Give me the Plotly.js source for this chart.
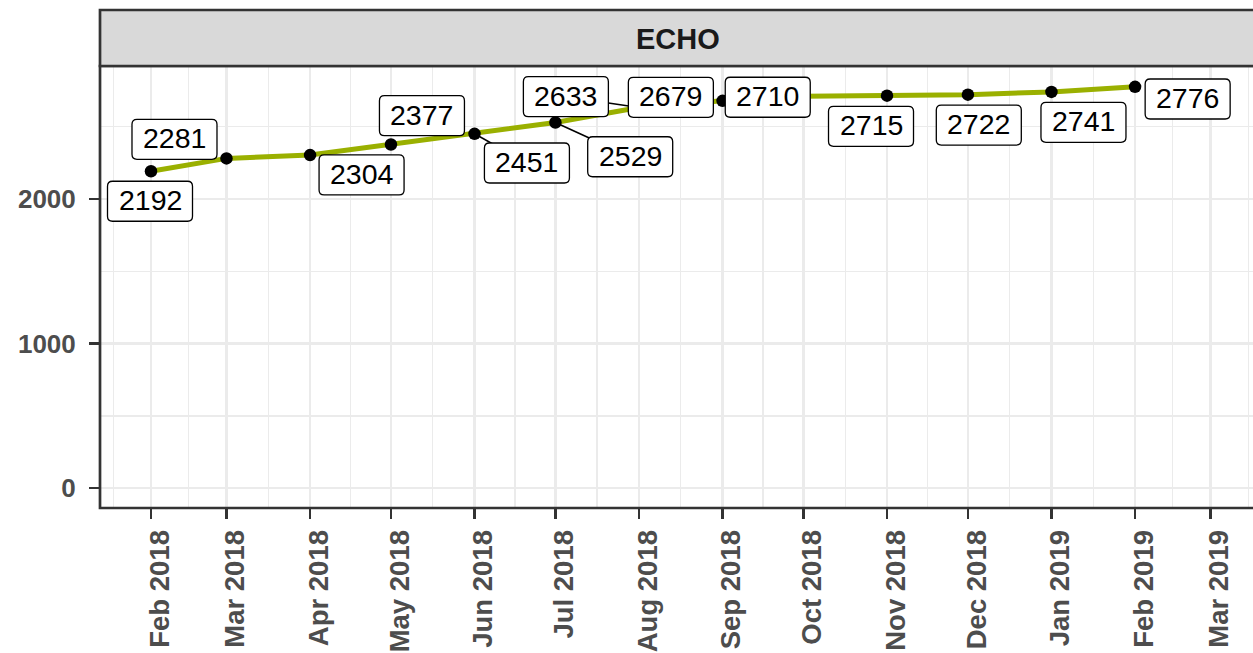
<!DOCTYPE html>
<html>
<head>
<meta charset="utf-8">
<script src="https://cdn.plot.ly/plotly-3.0.1.min.js"></script>
<style>
  html, body { margin: 0; padding: 0; overflow: hidden; background: #ffffff; }
  #chart { width: 1253px; height: 653px; }
</style>
</head>
<body>
<div id="chart"></div>
<script>
// ---- data ----
const facetLabel = 'ECHO';
const months = ['2018-02-01','2018-03-01','2018-04-01','2018-05-01','2018-06-01','2018-07-01',
                '2018-08-01','2018-09-01','2018-10-01','2018-11-01','2018-12-01','2019-01-01','2019-02-01'];
const counts = [2192, 2281, 2304, 2377, 2451, 2529, 2633, 2679, 2710, 2715, 2722, 2741, 2776];
const tickDates = ['2018-02-01','2018-03-01','2018-04-01','2018-05-01','2018-06-01','2018-07-01','2018-08-01',
                   '2018-09-01','2018-10-01','2018-11-01','2018-12-01','2019-01-01','2019-02-01','2019-03-01'];
const tickLabels = ['Feb 2018','Mar 2018','Apr 2018','May 2018','Jun 2018','Jul 2018','Aug 2018',
                    'Sep 2018','Oct 2018','Nov 2018','Dec 2018','Jan 2019','Feb 2019','Mar 2019'];
const yTickVals = [0, 1000, 2000];
const yTickText = ['0', '1000', '2000'];

// ---- label placement (pixel offsets of label centre from its point; screen y down) ----
const labelDX = [-1, -52, 51.5, 31, 52.4, 74.8, -73.1, -51.7, -35.7, -16, 10.9, 32, 52.6];
const labelDY = [30, -19.1, 19.9, -28.8, 29.2, 34.2, -10.8, -3.5, 0.9, 30.7, 30.4, 30.4, 12.2];
const labelSegment = [false,false,false,false,true,true,true,false,false,false,false,false,false];
const boxW = 85, boxH = 40, boxR = 5;

// ---- minor breaks (midpoints between major breaks, ggplot style) ----
function midBreaks(vals) {
  const b = vals.slice();
  const bd = b[1] - b[0];
  const ext = [b[0] - bd].concat(b, [b[b.length - 1] + bd]);
  const out = [];
  for (let i = 0; i < ext.length - 1; i++) out.push((ext[i] + ext[i + 1]) / 2);
  return out;
}
const majorMs = tickDates.map(d => Date.parse(d + 'T00:00:00Z'));
const minorX = midBreaks(majorMs).map(ms => new Date(ms).toISOString().replace('T', ' ').slice(0, 19));
const minorY = midBreaks(yTickVals);

function roundRect(cx, cy, w, h, r) {
  const x0 = cx - w / 2, x1 = cx + w / 2, y0 = cy - h / 2, y1 = cy + h / 2;
  return `M${x0 + r},${y0} L${x1 - r},${y0} Q${x1},${y0} ${x1},${y0 + r} L${x1},${y1 - r} Q${x1},${y1} ${x1 - r},${y1} ` +
         `L${x0 + r},${y1} Q${x0},${y1} ${x0},${y1 - r} L${x0},${y0 + r} Q${x0},${y0} ${x0 + r},${y0} Z`;
}

const trace = {
  type: 'scatter',
  mode: 'lines+markers',
  x: months,
  y: counts,
  line: { color: '#9AB000', width: 5 },
  marker: { color: '#000000', size: 12.5 },
  hoverinfo: 'x+y'
};

const shapes = [];
// panel border
shapes.push({ type: 'rect', xref: 'paper', yref: 'paper', x0: 0, x1: 1.05, y0: 0, y1: 1,
  line: { color: '#333333', width: 2.7 }, fillcolor: 'rgba(0,0,0,0)', layer: 'above' });
// facet strip
shapes.push({ type: 'rect', xref: 'paper', yref: 'paper', x0: 0, x1: 1.05, y0: 1, y1: 1 + 56 / 442,
  line: { color: '#333333', width: 2.7 }, fillcolor: '#D9D9D9', layer: 'above' });
// label segments
months.forEach((m, i) => {
  if (!labelSegment[i]) return;
  shapes.push({ type: 'line', xref: 'x', yref: 'y', xsizemode: 'pixel', ysizemode: 'pixel',
    xanchor: m, yanchor: counts[i], x0: 0, y0: 0, x1: labelDX[i], y1: -labelDY[i],
    line: { color: '#000000', width: 1.6 }, layer: 'above' });
});
// label boxes
months.forEach((m, i) => {
  shapes.push({ type: 'path', xref: 'x', yref: 'y', xsizemode: 'pixel', ysizemode: 'pixel',
    xanchor: m, yanchor: counts[i], path: roundRect(labelDX[i], -labelDY[i], boxW, boxH, boxR),
    line: { color: '#000000', width: 1.3 }, fillcolor: '#FFFFFF', layer: 'above' });
});

const annotations = months.map((m, i) => ({
  x: m, y: counts[i], xref: 'x', yref: 'y', text: String(counts[i]), showarrow: false,
  xanchor: 'center', yanchor: 'middle', xshift: labelDX[i], yshift: -labelDY[i] + 1,
  font: { family: 'Liberation Sans, Arial, sans-serif', size: 28.5, color: '#000000' }
}));
annotations.push({
  x: (678.2 - 100) / 1153, y: (508 - 38.8) / 442, xref: 'paper', yref: 'paper', text: facetLabel,
  showarrow: false, xanchor: 'center', yanchor: 'middle',
  font: { family: 'Liberation Sans, Arial, sans-serif', size: 29, color: '#1A1A1A', weight: 'bold' }
});

const layout = {
  width: 1253, height: 653,
  margin: { l: 100, r: 0, t: 66, b: 145, pad: 0 },
  paper_bgcolor: '#FFFFFF', plot_bgcolor: '#FFFFFF',
  showlegend: false,
  xaxis: {
    type: 'date', range: ['2018-01-13 02:00', '2019-03-16 18:00'],
    tickmode: 'array', tickvals: tickDates, ticktext: tickLabels, tickangle: -90,
    ticks: 'outside', ticklen: 10, tickwidth: 2.5, tickcolor: '#333333',
    ticklabelshift: 9, ticklabelstandoff: 0,
    tickfont: { family: 'Liberation Sans, Arial, sans-serif', size: 27.5, color: '#4D4D4D', weight: 'bold' },
    showgrid: true, gridcolor: '#EBEBEB', gridwidth: 2.6,
    minor: { tickmode: 'array', tickvals: minorX, showgrid: true, gridcolor: '#EBEBEB', gridwidth: 1.4, ticks: '' },
    zeroline: false, showline: false, fixedrange: true
  },
  yaxis: {
    range: [-137, 2920],
    tickmode: 'array', tickvals: yTickVals, ticktext: yTickText,
    ticks: 'outside', ticklen: 10, tickwidth: 2.5, tickcolor: '#333333',
    ticklabelstandoff: 8,
    tickfont: { family: 'Liberation Sans, Arial, sans-serif', size: 26, color: '#4D4D4D', weight: 'bold' },
    showgrid: true, gridcolor: '#EBEBEB', gridwidth: 2.6,
    minor: { tickmode: 'array', tickvals: minorY, showgrid: true, gridcolor: '#EBEBEB', gridwidth: 1.4, ticks: '' },
    zeroline: false, showline: false, fixedrange: true
  },
  shapes: shapes,
  annotations: annotations
};

Plotly.newPlot('chart', [trace], layout, { displayModeBar: false, staticPlot: true });
</script>
</body>
</html>
